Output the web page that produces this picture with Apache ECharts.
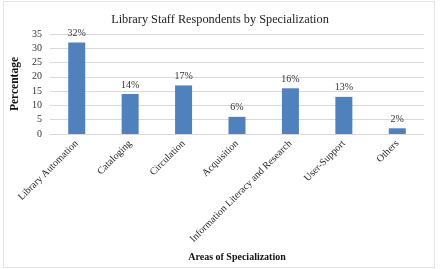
<!DOCTYPE html>
<html><head><meta charset="utf-8">
<script src="https://cdn.jsdelivr.net/npm/echarts@6/dist/echarts.min.js"></script>
<style>html,body{margin:0;padding:0;background:#fff}#c{width:440px;height:269px}</style>
</head><body><div id="c"></div>
<script>
const categories = ['Library Automation','Cataloging','Circulation','Acquisition','Information Literacy and Research','User-Support','Others'];
const values = [32,14,17,6,16,13,2];
const yTicks = [0,5,10,15,20,25,30,35];
const chart = echarts.init(document.getElementById('c'));
const F = 'Liberation Serif, Times New Roman, serif';
chart.setOption({
  animation:false,
  backgroundColor:'#fff',
  textStyle:{fontFamily:F},
  title:{text:'Library Staff Respondents by Specialization',left:'center',top:9,textStyle:{fontFamily:F,fontSize:12.3,fontWeight:'normal',color:'#222'}},
  graphic:[{type:'rect',shape:{x:3.5,y:1.5,width:431,height:266},style:{fill:'none',stroke:'#e3e3e3',lineWidth:1},silent:true}],
  grid:{left:50,right:16,top:34,bottom:135,containLabel:false},
  xAxis:{type:'category',data:categories,
    axisLine:{lineStyle:{color:'#d9d9d9'}},axisTick:{show:false},
    axisLabel:{rotate:45,fontSize:10,color:'#222',fontFamily:F,margin:8,interval:0},
    name:'Areas of Specialization',nameLocation:'middle',nameGap:118,
    nameTextStyle:{fontFamily:F,fontSize:10,fontWeight:'bold',color:'#111'}},
  yAxis:{type:'value',min:0,max:35,interval:5,
    axisLine:{show:false},axisTick:{show:false},
    splitLine:{lineStyle:{color:'#d9d9d9'}},
    axisLabel:{fontSize:10,color:'#333',fontFamily:F,margin:8,
      formatter:v=>yTicks.includes(v)?String(v):''},
    name:'Percentage',nameLocation:'middle',nameGap:24,
    nameTextStyle:{fontFamily:F,fontSize:11.5,fontWeight:'bold',color:'#111'}},
  series:[{type:'bar',data:values,barWidth:17,itemStyle:{color:'#4f81bd'},
    label:{show:true,position:'top',formatter:'{c}%',fontSize:10,color:'#333',fontFamily:F,distance:4}}]
});
</script></body></html>
